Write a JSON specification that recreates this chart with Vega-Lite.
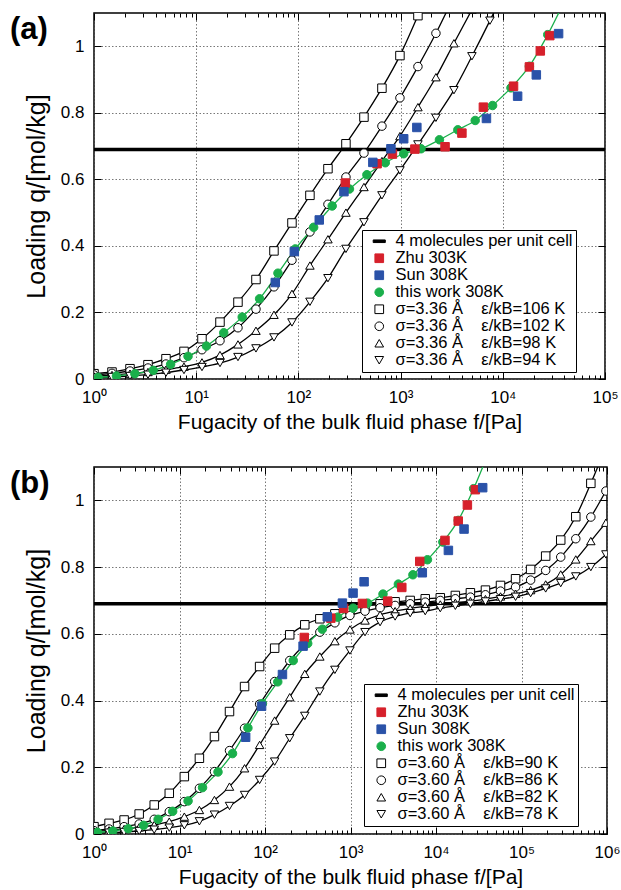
{
  "$schema": "https://vega.github.io/schema/vega-lite/v6.json",
  "background": "white",
  "padding": {"left": 9, "top": 11, "right": 5, "bottom": 5},
  "spacing": 32,
  "config": {
    "font": "Liberation Sans",
    "view": {"stroke": "black", "strokeWidth": 1.5},
    "axis": {"domain": false, "tickColor": "black", "labelColor": "black", "titleColor": "black", "labelFontSize": 17, "titleFontWeight": "normal", "gridColor": "#555555", "gridDash": [1.5, 2], "gridWidth": 0.8, "tickWidth": 1, "labelFont": "Liberation Sans", "titleFont": "Liberation Sans"},
    "legend": {"labelFont": "Liberation Sans", "labelFontSize": 16.5, "labelColor": "black", "strokeColor": "black", "fillColor": "white", "padding": 3, "cornerRadius": 0, "symbolOffset": 6, "labelOffset": 8, "labelLimit": 400, "rowPadding": 0, "symbolSize": 75, "symbolStrokeWidth": 1}
  },
  "resolve": {"scale": {"shape": "independent", "fill": "independent", "stroke": "independent"}},
  "datasets": {
    "exp": [
      {"s": "this work 308K", "f": 1.096, "q": 0.005}, {"s": "this work 308K", "f": 1.66, "q": 0.009}, {"s": "this work 308K", "f": 2.51, "q": 0.016}, {"s": "this work 308K", "f": 3.8, "q": 0.026}, {"s": "this work 308K", "f": 5.62, "q": 0.044}, {"s": "this work 308K", "f": 8.32, "q": 0.068}, {"s": "this work 308K", "f": 12.6, "q": 0.099}, {"s": "this work 308K", "f": 18.6, "q": 0.139}, {"s": "this work 308K", "f": 28.2, "q": 0.186}, {"s": "this work 308K", "f": 41.7, "q": 0.241}, {"s": "this work 308K", "f": 63.1, "q": 0.318}, {"s": "this work 308K", "f": 93.3, "q": 0.391}, {"s": "this work 308K", "f": 141, "q": 0.456}, {"s": "this work 308K", "f": 214, "q": 0.52}, {"s": "this work 308K", "f": 316, "q": 0.571}, {"s": "this work 308K", "f": 468, "q": 0.614}, {"s": "this work 308K", "f": 708, "q": 0.65}, {"s": "this work 308K", "f": 1072, "q": 0.677}, {"s": "this work 308K", "f": 1585, "q": 0.692}, {"s": "this work 308K", "f": 2399, "q": 0.719}, {"s": "this work 308K", "f": 3631, "q": 0.749}, {"s": "this work 308K", "f": 5370, "q": 0.777}, {"s": "this work 308K", "f": 7943, "q": 0.822}, {"s": "this work 308K", "f": 12023, "q": 0.875}, {"s": "this work 308K", "f": 18197, "q": 0.94}, {"s": "this work 308K", "f": 27542, "q": 1.035}, {"s": "this work 308K", "f": 40738, "q": 1.14},
      {"s": "Zhu 303K", "f": 288, "q": 0.589}, {"s": "Zhu 303K", "f": 589, "q": 0.647}, {"s": "Zhu 303K", "f": 832, "q": 0.676}, {"s": "Zhu 303K", "f": 1380, "q": 0.691}, {"s": "Zhu 303K", "f": 2723, "q": 0.698}, {"s": "Zhu 303K", "f": 3981, "q": 0.739}, {"s": "Zhu 303K", "f": 6457, "q": 0.817}, {"s": "Zhu 303K", "f": 12735, "q": 0.88}, {"s": "Zhu 303K", "f": 18197, "q": 0.938}, {"s": "Zhu 303K", "f": 23281, "q": 0.986}, {"s": "Zhu 303K", "f": 28840, "q": 1.032},
      {"s": "Sun 308K", "f": 59.4, "q": 0.29}, {"s": "Sun 308K", "f": 91.2, "q": 0.383}, {"s": "Sun 308K", "f": 160, "q": 0.478}, {"s": "Sun 308K", "f": 279, "q": 0.563}, {"s": "Sun 308K", "f": 535, "q": 0.651}, {"s": "Sun 308K", "f": 804, "q": 0.692}, {"s": "Sun 308K", "f": 1072, "q": 0.722}, {"s": "Sun 308K", "f": 1442, "q": 0.756}, {"s": "Sun 308K", "f": 6918, "q": 0.783}, {"s": "Sun 308K", "f": 13964, "q": 0.85}, {"s": "Sun 308K", "f": 21281, "q": 0.914}, {"s": "Sun 308K", "f": 35156, "q": 1.038}
    ],
    "sim_a": [
      {"s": "σ=3.36 Å\u00a0\u00a0\u00a0\u00a0ε/kB=106 K", "f": 1, "q": 0.016}, {"s": "σ=3.36 Å\u00a0\u00a0\u00a0\u00a0ε/kB=106 K", "f": 1.5, "q": 0.021}, {"s": "σ=3.36 Å\u00a0\u00a0\u00a0\u00a0ε/kB=106 K", "f": 2.25, "q": 0.031}, {"s": "σ=3.36 Å\u00a0\u00a0\u00a0\u00a0ε/kB=106 K", "f": 3.375, "q": 0.043}, {"s": "σ=3.36 Å\u00a0\u00a0\u00a0\u00a0ε/kB=106 K", "f": 5.063, "q": 0.061}, {"s": "σ=3.36 Å\u00a0\u00a0\u00a0\u00a0ε/kB=106 K", "f": 7.594, "q": 0.083}, {"s": "σ=3.36 Å\u00a0\u00a0\u00a0\u00a0ε/kB=106 K", "f": 11.39, "q": 0.121}, {"s": "σ=3.36 Å\u00a0\u00a0\u00a0\u00a0ε/kB=106 K", "f": 17.09, "q": 0.171}, {"s": "σ=3.36 Å\u00a0\u00a0\u00a0\u00a0ε/kB=106 K", "f": 25.63, "q": 0.231}, {"s": "σ=3.36 Å\u00a0\u00a0\u00a0\u00a0ε/kB=106 K", "f": 38.44, "q": 0.299}, {"s": "σ=3.36 Å\u00a0\u00a0\u00a0\u00a0ε/kB=106 K", "f": 57.67, "q": 0.385}, {"s": "σ=3.36 Å\u00a0\u00a0\u00a0\u00a0ε/kB=106 K", "f": 86.5, "q": 0.469}, {"s": "σ=3.36 Å\u00a0\u00a0\u00a0\u00a0ε/kB=106 K", "f": 129.7, "q": 0.552}, {"s": "σ=3.36 Å\u00a0\u00a0\u00a0\u00a0ε/kB=106 K", "f": 194.6, "q": 0.632}, {"s": "σ=3.36 Å\u00a0\u00a0\u00a0\u00a0ε/kB=106 K", "f": 291.9, "q": 0.707}, {"s": "σ=3.36 Å\u00a0\u00a0\u00a0\u00a0ε/kB=106 K", "f": 437.9, "q": 0.787}, {"s": "σ=3.36 Å\u00a0\u00a0\u00a0\u00a0ε/kB=106 K", "f": 656.8, "q": 0.874}, {"s": "σ=3.36 Å\u00a0\u00a0\u00a0\u00a0ε/kB=106 K", "f": 985.3, "q": 0.972}, {"s": "σ=3.36 Å\u00a0\u00a0\u00a0\u00a0ε/kB=106 K", "f": 1478, "q": 1.092}, {"s": "σ=3.36 Å\u00a0\u00a0\u00a0\u00a0ε/kB=106 K", "f": 2217, "q": 1.22},
      {"s": "σ=3.36 Å\u00a0\u00a0\u00a0\u00a0ε/kB=102 K", "f": 1, "q": 0.012}, {"s": "σ=3.36 Å\u00a0\u00a0\u00a0\u00a0ε/kB=102 K", "f": 1.5, "q": 0.017}, {"s": "σ=3.36 Å\u00a0\u00a0\u00a0\u00a0ε/kB=102 K", "f": 2.25, "q": 0.024}, {"s": "σ=3.36 Å\u00a0\u00a0\u00a0\u00a0ε/kB=102 K", "f": 3.375, "q": 0.033}, {"s": "σ=3.36 Å\u00a0\u00a0\u00a0\u00a0ε/kB=102 K", "f": 5.063, "q": 0.045}, {"s": "σ=3.36 Å\u00a0\u00a0\u00a0\u00a0ε/kB=102 K", "f": 7.594, "q": 0.064}, {"s": "σ=3.36 Å\u00a0\u00a0\u00a0\u00a0ε/kB=102 K", "f": 11.39, "q": 0.088}, {"s": "σ=3.36 Å\u00a0\u00a0\u00a0\u00a0ε/kB=102 K", "f": 17.09, "q": 0.115}, {"s": "σ=3.36 Å\u00a0\u00a0\u00a0\u00a0ε/kB=102 K", "f": 25.63, "q": 0.154}, {"s": "σ=3.36 Å\u00a0\u00a0\u00a0\u00a0ε/kB=102 K", "f": 38.44, "q": 0.21}, {"s": "σ=3.36 Å\u00a0\u00a0\u00a0\u00a0ε/kB=102 K", "f": 57.67, "q": 0.277}, {"s": "σ=3.36 Å\u00a0\u00a0\u00a0\u00a0ε/kB=102 K", "f": 86.5, "q": 0.357}, {"s": "σ=3.36 Å\u00a0\u00a0\u00a0\u00a0ε/kB=102 K", "f": 129.7, "q": 0.442}, {"s": "σ=3.36 Å\u00a0\u00a0\u00a0\u00a0ε/kB=102 K", "f": 194.6, "q": 0.525}, {"s": "σ=3.36 Å\u00a0\u00a0\u00a0\u00a0ε/kB=102 K", "f": 291.9, "q": 0.607}, {"s": "σ=3.36 Å\u00a0\u00a0\u00a0\u00a0ε/kB=102 K", "f": 437.9, "q": 0.679}, {"s": "σ=3.36 Å\u00a0\u00a0\u00a0\u00a0ε/kB=102 K", "f": 656.8, "q": 0.76}, {"s": "σ=3.36 Å\u00a0\u00a0\u00a0\u00a0ε/kB=102 K", "f": 985.3, "q": 0.845}, {"s": "σ=3.36 Å\u00a0\u00a0\u00a0\u00a0ε/kB=102 K", "f": 1478, "q": 0.939}, {"s": "σ=3.36 Å\u00a0\u00a0\u00a0\u00a0ε/kB=102 K", "f": 2217, "q": 1.039}, {"s": "σ=3.36 Å\u00a0\u00a0\u00a0\u00a0ε/kB=102 K", "f": 3325, "q": 1.15},
      {"s": "σ=3.36 Å\u00a0\u00a0\u00a0\u00a0ε/kB=98 K", "f": 1, "q": 0.008}, {"s": "σ=3.36 Å\u00a0\u00a0\u00a0\u00a0ε/kB=98 K", "f": 1.5, "q": 0.012}, {"s": "σ=3.36 Å\u00a0\u00a0\u00a0\u00a0ε/kB=98 K", "f": 2.25, "q": 0.016}, {"s": "σ=3.36 Å\u00a0\u00a0\u00a0\u00a0ε/kB=98 K", "f": 3.375, "q": 0.021}, {"s": "σ=3.36 Å\u00a0\u00a0\u00a0\u00a0ε/kB=98 K", "f": 5.063, "q": 0.028}, {"s": "σ=3.36 Å\u00a0\u00a0\u00a0\u00a0ε/kB=98 K", "f": 7.594, "q": 0.037}, {"s": "σ=3.36 Å\u00a0\u00a0\u00a0\u00a0ε/kB=98 K", "f": 11.39, "q": 0.05}, {"s": "σ=3.36 Å\u00a0\u00a0\u00a0\u00a0ε/kB=98 K", "f": 17.09, "q": 0.072}, {"s": "σ=3.36 Å\u00a0\u00a0\u00a0\u00a0ε/kB=98 K", "f": 25.63, "q": 0.104}, {"s": "σ=3.36 Å\u00a0\u00a0\u00a0\u00a0ε/kB=98 K", "f": 38.44, "q": 0.145}, {"s": "σ=3.36 Å\u00a0\u00a0\u00a0\u00a0ε/kB=98 K", "f": 57.67, "q": 0.193}, {"s": "σ=3.36 Å\u00a0\u00a0\u00a0\u00a0ε/kB=98 K", "f": 86.5, "q": 0.256}, {"s": "σ=3.36 Å\u00a0\u00a0\u00a0\u00a0ε/kB=98 K", "f": 129.7, "q": 0.341}, {"s": "σ=3.36 Å\u00a0\u00a0\u00a0\u00a0ε/kB=98 K", "f": 194.6, "q": 0.42}, {"s": "σ=3.36 Å\u00a0\u00a0\u00a0\u00a0ε/kB=98 K", "f": 291.9, "q": 0.5}, {"s": "σ=3.36 Å\u00a0\u00a0\u00a0\u00a0ε/kB=98 K", "f": 437.9, "q": 0.577}, {"s": "σ=3.36 Å\u00a0\u00a0\u00a0\u00a0ε/kB=98 K", "f": 656.8, "q": 0.655}, {"s": "σ=3.36 Å\u00a0\u00a0\u00a0\u00a0ε/kB=98 K", "f": 985.3, "q": 0.73}, {"s": "σ=3.36 Å\u00a0\u00a0\u00a0\u00a0ε/kB=98 K", "f": 1478, "q": 0.817}, {"s": "σ=3.36 Å\u00a0\u00a0\u00a0\u00a0ε/kB=98 K", "f": 2217, "q": 0.907}, {"s": "σ=3.36 Å\u00a0\u00a0\u00a0\u00a0ε/kB=98 K", "f": 3325, "q": 1.009}, {"s": "σ=3.36 Å\u00a0\u00a0\u00a0\u00a0ε/kB=98 K", "f": 4988, "q": 1.11},
      {"s": "σ=3.36 Å\u00a0\u00a0\u00a0\u00a0ε/kB=94 K", "f": 1, "q": 0.004}, {"s": "σ=3.36 Å\u00a0\u00a0\u00a0\u00a0ε/kB=94 K", "f": 1.5, "q": 0.006}, {"s": "σ=3.36 Å\u00a0\u00a0\u00a0\u00a0ε/kB=94 K", "f": 2.25, "q": 0.009}, {"s": "σ=3.36 Å\u00a0\u00a0\u00a0\u00a0ε/kB=94 K", "f": 3.375, "q": 0.013}, {"s": "σ=3.36 Å\u00a0\u00a0\u00a0\u00a0ε/kB=94 K", "f": 5.063, "q": 0.019}, {"s": "σ=3.36 Å\u00a0\u00a0\u00a0\u00a0ε/kB=94 K", "f": 7.594, "q": 0.027}, {"s": "σ=3.36 Å\u00a0\u00a0\u00a0\u00a0ε/kB=94 K", "f": 11.39, "q": 0.036}, {"s": "σ=3.36 Å\u00a0\u00a0\u00a0\u00a0ε/kB=94 K", "f": 17.09, "q": 0.048}, {"s": "σ=3.36 Å\u00a0\u00a0\u00a0\u00a0ε/kB=94 K", "f": 25.63, "q": 0.066}, {"s": "σ=3.36 Å\u00a0\u00a0\u00a0\u00a0ε/kB=94 K", "f": 38.44, "q": 0.092}, {"s": "σ=3.36 Å\u00a0\u00a0\u00a0\u00a0ε/kB=94 K", "f": 57.67, "q": 0.125}, {"s": "σ=3.36 Å\u00a0\u00a0\u00a0\u00a0ε/kB=94 K", "f": 86.5, "q": 0.17}, {"s": "σ=3.36 Å\u00a0\u00a0\u00a0\u00a0ε/kB=94 K", "f": 129.7, "q": 0.232}, {"s": "σ=3.36 Å\u00a0\u00a0\u00a0\u00a0ε/kB=94 K", "f": 194.6, "q": 0.303}, {"s": "σ=3.36 Å\u00a0\u00a0\u00a0\u00a0ε/kB=94 K", "f": 291.9, "q": 0.391}, {"s": "σ=3.36 Å\u00a0\u00a0\u00a0\u00a0ε/kB=94 K", "f": 437.9, "q": 0.471}, {"s": "σ=3.36 Å\u00a0\u00a0\u00a0\u00a0ε/kB=94 K", "f": 656.8, "q": 0.552}, {"s": "σ=3.36 Å\u00a0\u00a0\u00a0\u00a0ε/kB=94 K", "f": 985.3, "q": 0.627}, {"s": "σ=3.36 Å\u00a0\u00a0\u00a0\u00a0ε/kB=94 K", "f": 1478, "q": 0.705}, {"s": "σ=3.36 Å\u00a0\u00a0\u00a0\u00a0ε/kB=94 K", "f": 2217, "q": 0.785}, {"s": "σ=3.36 Å\u00a0\u00a0\u00a0\u00a0ε/kB=94 K", "f": 3325, "q": 0.868}, {"s": "σ=3.36 Å\u00a0\u00a0\u00a0\u00a0ε/kB=94 K", "f": 4988, "q": 0.97}, {"s": "σ=3.36 Å\u00a0\u00a0\u00a0\u00a0ε/kB=94 K", "f": 7482, "q": 1.077}, {"s": "σ=3.36 Å\u00a0\u00a0\u00a0\u00a0ε/kB=94 K", "f": 11223, "q": 1.19}
    ],
    "sim_b": [
      {"s": "σ=3.60 Å\u00a0\u00a0\u00a0\u00a0ε/kB=90 K", "f": 1, "q": 0.022}, {"s": "σ=3.60 Å\u00a0\u00a0\u00a0\u00a0ε/kB=90 K", "f": 1.5, "q": 0.032}, {"s": "σ=3.60 Å\u00a0\u00a0\u00a0\u00a0ε/kB=90 K", "f": 2.25, "q": 0.042}, {"s": "σ=3.60 Å\u00a0\u00a0\u00a0\u00a0ε/kB=90 K", "f": 3.375, "q": 0.06}, {"s": "σ=3.60 Å\u00a0\u00a0\u00a0\u00a0ε/kB=90 K", "f": 5.063, "q": 0.087}, {"s": "σ=3.60 Å\u00a0\u00a0\u00a0\u00a0ε/kB=90 K", "f": 7.594, "q": 0.122}, {"s": "σ=3.60 Å\u00a0\u00a0\u00a0\u00a0ε/kB=90 K", "f": 11.39, "q": 0.172}, {"s": "σ=3.60 Å\u00a0\u00a0\u00a0\u00a0ε/kB=90 K", "f": 17.09, "q": 0.227}, {"s": "σ=3.60 Å\u00a0\u00a0\u00a0\u00a0ε/kB=90 K", "f": 25.63, "q": 0.292}, {"s": "σ=3.60 Å\u00a0\u00a0\u00a0\u00a0ε/kB=90 K", "f": 38.44, "q": 0.367}, {"s": "σ=3.60 Å\u00a0\u00a0\u00a0\u00a0ε/kB=90 K", "f": 57.67, "q": 0.442}, {"s": "σ=3.60 Å\u00a0\u00a0\u00a0\u00a0ε/kB=90 K", "f": 86.5, "q": 0.502}, {"s": "σ=3.60 Å\u00a0\u00a0\u00a0\u00a0ε/kB=90 K", "f": 129.7, "q": 0.557}, {"s": "σ=3.60 Å\u00a0\u00a0\u00a0\u00a0ε/kB=90 K", "f": 194.6, "q": 0.597}, {"s": "σ=3.60 Å\u00a0\u00a0\u00a0\u00a0ε/kB=90 K", "f": 291.9, "q": 0.627}, {"s": "σ=3.60 Å\u00a0\u00a0\u00a0\u00a0ε/kB=90 K", "f": 437.9, "q": 0.645}, {"s": "σ=3.60 Å\u00a0\u00a0\u00a0\u00a0ε/kB=90 K", "f": 656.8, "q": 0.66}, {"s": "σ=3.60 Å\u00a0\u00a0\u00a0\u00a0ε/kB=90 K", "f": 985.3, "q": 0.672}, {"s": "σ=3.60 Å\u00a0\u00a0\u00a0\u00a0ε/kB=90 K", "f": 1478, "q": 0.682}, {"s": "σ=3.60 Å\u00a0\u00a0\u00a0\u00a0ε/kB=90 K", "f": 2217, "q": 0.69}, {"s": "σ=3.60 Å\u00a0\u00a0\u00a0\u00a0ε/kB=90 K", "f": 3325, "q": 0.696}, {"s": "σ=3.60 Å\u00a0\u00a0\u00a0\u00a0ε/kB=90 K", "f": 4988, "q": 0.7}, {"s": "σ=3.60 Å\u00a0\u00a0\u00a0\u00a0ε/kB=90 K", "f": 7482, "q": 0.705}, {"s": "σ=3.60 Å\u00a0\u00a0\u00a0\u00a0ε/kB=90 K", "f": 11223, "q": 0.708}, {"s": "σ=3.60 Å\u00a0\u00a0\u00a0\u00a0ε/kB=90 K", "f": 16834, "q": 0.715}, {"s": "σ=3.60 Å\u00a0\u00a0\u00a0\u00a0ε/kB=90 K", "f": 25251, "q": 0.723}, {"s": "σ=3.60 Å\u00a0\u00a0\u00a0\u00a0ε/kB=90 K", "f": 37877, "q": 0.731}, {"s": "σ=3.60 Å\u00a0\u00a0\u00a0\u00a0ε/kB=90 K", "f": 56815, "q": 0.745}, {"s": "σ=3.60 Å\u00a0\u00a0\u00a0\u00a0ε/kB=90 K", "f": 85223, "q": 0.765}, {"s": "σ=3.60 Å\u00a0\u00a0\u00a0\u00a0ε/kB=90 K", "f": 127834, "q": 0.793}, {"s": "σ=3.60 Å\u00a0\u00a0\u00a0\u00a0ε/kB=90 K", "f": 191751, "q": 0.833}, {"s": "σ=3.60 Å\u00a0\u00a0\u00a0\u00a0ε/kB=90 K", "f": 287627, "q": 0.881}, {"s": "σ=3.60 Å\u00a0\u00a0\u00a0\u00a0ε/kB=90 K", "f": 431440, "q": 0.951}, {"s": "σ=3.60 Å\u00a0\u00a0\u00a0\u00a0ε/kB=90 K", "f": 647160, "q": 1.051}, {"s": "σ=3.60 Å\u00a0\u00a0\u00a0\u00a0ε/kB=90 K", "f": 970740, "q": 1.16},
      {"s": "σ=3.60 Å\u00a0\u00a0\u00a0\u00a0ε/kB=86 K", "f": 1, "q": 0.01}, {"s": "σ=3.60 Å\u00a0\u00a0\u00a0\u00a0ε/kB=86 K", "f": 1.5, "q": 0.015}, {"s": "σ=3.60 Å\u00a0\u00a0\u00a0\u00a0ε/kB=86 K", "f": 2.25, "q": 0.022}, {"s": "σ=3.60 Å\u00a0\u00a0\u00a0\u00a0ε/kB=86 K", "f": 3.375, "q": 0.03}, {"s": "σ=3.60 Å\u00a0\u00a0\u00a0\u00a0ε/kB=86 K", "f": 5.063, "q": 0.044}, {"s": "σ=3.60 Å\u00a0\u00a0\u00a0\u00a0ε/kB=86 K", "f": 7.594, "q": 0.067}, {"s": "σ=3.60 Å\u00a0\u00a0\u00a0\u00a0ε/kB=86 K", "f": 11.39, "q": 0.097}, {"s": "σ=3.60 Å\u00a0\u00a0\u00a0\u00a0ε/kB=86 K", "f": 17.09, "q": 0.137}, {"s": "σ=3.60 Å\u00a0\u00a0\u00a0\u00a0ε/kB=86 K", "f": 25.63, "q": 0.187}, {"s": "σ=3.60 Å\u00a0\u00a0\u00a0\u00a0ε/kB=86 K", "f": 38.44, "q": 0.25}, {"s": "σ=3.60 Å\u00a0\u00a0\u00a0\u00a0ε/kB=86 K", "f": 57.67, "q": 0.317}, {"s": "σ=3.60 Å\u00a0\u00a0\u00a0\u00a0ε/kB=86 K", "f": 86.5, "q": 0.389}, {"s": "σ=3.60 Å\u00a0\u00a0\u00a0\u00a0ε/kB=86 K", "f": 129.7, "q": 0.457}, {"s": "σ=3.60 Å\u00a0\u00a0\u00a0\u00a0ε/kB=86 K", "f": 194.6, "q": 0.52}, {"s": "σ=3.60 Å\u00a0\u00a0\u00a0\u00a0ε/kB=86 K", "f": 291.9, "q": 0.568}, {"s": "σ=3.60 Å\u00a0\u00a0\u00a0\u00a0ε/kB=86 K", "f": 437.9, "q": 0.605}, {"s": "σ=3.60 Å\u00a0\u00a0\u00a0\u00a0ε/kB=86 K", "f": 656.8, "q": 0.633}, {"s": "σ=3.60 Å\u00a0\u00a0\u00a0\u00a0ε/kB=86 K", "f": 985.3, "q": 0.655}, {"s": "σ=3.60 Å\u00a0\u00a0\u00a0\u00a0ε/kB=86 K", "f": 1478, "q": 0.668}, {"s": "σ=3.60 Å\u00a0\u00a0\u00a0\u00a0ε/kB=86 K", "f": 2217, "q": 0.678}, {"s": "σ=3.60 Å\u00a0\u00a0\u00a0\u00a0ε/kB=86 K", "f": 3325, "q": 0.685}, {"s": "σ=3.60 Å\u00a0\u00a0\u00a0\u00a0ε/kB=86 K", "f": 4988, "q": 0.69}, {"s": "σ=3.60 Å\u00a0\u00a0\u00a0\u00a0ε/kB=86 K", "f": 7482, "q": 0.695}, {"s": "σ=3.60 Å\u00a0\u00a0\u00a0\u00a0ε/kB=86 K", "f": 11223, "q": 0.7}, {"s": "σ=3.60 Å\u00a0\u00a0\u00a0\u00a0ε/kB=86 K", "f": 16834, "q": 0.705}, {"s": "σ=3.60 Å\u00a0\u00a0\u00a0\u00a0ε/kB=86 K", "f": 25251, "q": 0.71}, {"s": "σ=3.60 Å\u00a0\u00a0\u00a0\u00a0ε/kB=86 K", "f": 37877, "q": 0.717}, {"s": "σ=3.60 Å\u00a0\u00a0\u00a0\u00a0ε/kB=86 K", "f": 56815, "q": 0.728}, {"s": "σ=3.60 Å\u00a0\u00a0\u00a0\u00a0ε/kB=86 K", "f": 85223, "q": 0.74}, {"s": "σ=3.60 Å\u00a0\u00a0\u00a0\u00a0ε/kB=86 K", "f": 127834, "q": 0.761}, {"s": "σ=3.60 Å\u00a0\u00a0\u00a0\u00a0ε/kB=86 K", "f": 191751, "q": 0.79}, {"s": "σ=3.60 Å\u00a0\u00a0\u00a0\u00a0ε/kB=86 K", "f": 287627, "q": 0.83}, {"s": "σ=3.60 Å\u00a0\u00a0\u00a0\u00a0ε/kB=86 K", "f": 431440, "q": 0.885}, {"s": "σ=3.60 Å\u00a0\u00a0\u00a0\u00a0ε/kB=86 K", "f": 647160, "q": 0.95}, {"s": "σ=3.60 Å\u00a0\u00a0\u00a0\u00a0ε/kB=86 K", "f": 970740, "q": 1.028},
      {"s": "σ=3.60 Å\u00a0\u00a0\u00a0\u00a0ε/kB=82 K", "f": 1, "q": 0.008}, {"s": "σ=3.60 Å\u00a0\u00a0\u00a0\u00a0ε/kB=82 K", "f": 1.5, "q": 0.011}, {"s": "σ=3.60 Å\u00a0\u00a0\u00a0\u00a0ε/kB=82 K", "f": 2.25, "q": 0.015}, {"s": "σ=3.60 Å\u00a0\u00a0\u00a0\u00a0ε/kB=82 K", "f": 3.375, "q": 0.02}, {"s": "σ=3.60 Å\u00a0\u00a0\u00a0\u00a0ε/kB=82 K", "f": 5.063, "q": 0.027}, {"s": "σ=3.60 Å\u00a0\u00a0\u00a0\u00a0ε/kB=82 K", "f": 7.594, "q": 0.037}, {"s": "σ=3.60 Å\u00a0\u00a0\u00a0\u00a0ε/kB=82 K", "f": 11.39, "q": 0.052}, {"s": "σ=3.60 Å\u00a0\u00a0\u00a0\u00a0ε/kB=82 K", "f": 17.09, "q": 0.072}, {"s": "σ=3.60 Å\u00a0\u00a0\u00a0\u00a0ε/kB=82 K", "f": 25.63, "q": 0.102}, {"s": "σ=3.60 Å\u00a0\u00a0\u00a0\u00a0ε/kB=82 K", "f": 38.44, "q": 0.142}, {"s": "σ=3.60 Å\u00a0\u00a0\u00a0\u00a0ε/kB=82 K", "f": 57.67, "q": 0.197}, {"s": "σ=3.60 Å\u00a0\u00a0\u00a0\u00a0ε/kB=82 K", "f": 86.5, "q": 0.267}, {"s": "σ=3.60 Å\u00a0\u00a0\u00a0\u00a0ε/kB=82 K", "f": 129.7, "q": 0.34}, {"s": "σ=3.60 Å\u00a0\u00a0\u00a0\u00a0ε/kB=82 K", "f": 194.6, "q": 0.41}, {"s": "σ=3.60 Å\u00a0\u00a0\u00a0\u00a0ε/kB=82 K", "f": 291.9, "q": 0.48}, {"s": "σ=3.60 Å\u00a0\u00a0\u00a0\u00a0ε/kB=82 K", "f": 437.9, "q": 0.532}, {"s": "σ=3.60 Å\u00a0\u00a0\u00a0\u00a0ε/kB=82 K", "f": 656.8, "q": 0.578}, {"s": "σ=3.60 Å\u00a0\u00a0\u00a0\u00a0ε/kB=82 K", "f": 985.3, "q": 0.613}, {"s": "σ=3.60 Å\u00a0\u00a0\u00a0\u00a0ε/kB=82 K", "f": 1478, "q": 0.64}, {"s": "σ=3.60 Å\u00a0\u00a0\u00a0\u00a0ε/kB=82 K", "f": 2217, "q": 0.657}, {"s": "σ=3.60 Å\u00a0\u00a0\u00a0\u00a0ε/kB=82 K", "f": 3325, "q": 0.668}, {"s": "σ=3.60 Å\u00a0\u00a0\u00a0\u00a0ε/kB=82 K", "f": 4988, "q": 0.676}, {"s": "σ=3.60 Å\u00a0\u00a0\u00a0\u00a0ε/kB=82 K", "f": 7482, "q": 0.683}, {"s": "σ=3.60 Å\u00a0\u00a0\u00a0\u00a0ε/kB=82 K", "f": 11223, "q": 0.688}, {"s": "σ=3.60 Å\u00a0\u00a0\u00a0\u00a0ε/kB=82 K", "f": 16834, "q": 0.693}, {"s": "σ=3.60 Å\u00a0\u00a0\u00a0\u00a0ε/kB=82 K", "f": 25251, "q": 0.698}, {"s": "σ=3.60 Å\u00a0\u00a0\u00a0\u00a0ε/kB=82 K", "f": 37877, "q": 0.704}, {"s": "σ=3.60 Å\u00a0\u00a0\u00a0\u00a0ε/kB=82 K", "f": 56815, "q": 0.712}, {"s": "σ=3.60 Å\u00a0\u00a0\u00a0\u00a0ε/kB=82 K", "f": 85223, "q": 0.72}, {"s": "σ=3.60 Å\u00a0\u00a0\u00a0\u00a0ε/kB=82 K", "f": 127834, "q": 0.731}, {"s": "σ=3.60 Å\u00a0\u00a0\u00a0\u00a0ε/kB=82 K", "f": 191751, "q": 0.748}, {"s": "σ=3.60 Å\u00a0\u00a0\u00a0\u00a0ε/kB=82 K", "f": 287627, "q": 0.778}, {"s": "σ=3.60 Å\u00a0\u00a0\u00a0\u00a0ε/kB=82 K", "f": 431440, "q": 0.823}, {"s": "σ=3.60 Å\u00a0\u00a0\u00a0\u00a0ε/kB=82 K", "f": 647160, "q": 0.878}, {"s": "σ=3.60 Å\u00a0\u00a0\u00a0\u00a0ε/kB=82 K", "f": 970740, "q": 0.933},
      {"s": "σ=3.60 Å\u00a0\u00a0\u00a0\u00a0ε/kB=78 K", "f": 1, "q": 0.003}, {"s": "σ=3.60 Å\u00a0\u00a0\u00a0\u00a0ε/kB=78 K", "f": 1.5, "q": 0.004}, {"s": "σ=3.60 Å\u00a0\u00a0\u00a0\u00a0ε/kB=78 K", "f": 2.25, "q": 0.006}, {"s": "σ=3.60 Å\u00a0\u00a0\u00a0\u00a0ε/kB=78 K", "f": 3.375, "q": 0.009}, {"s": "σ=3.60 Å\u00a0\u00a0\u00a0\u00a0ε/kB=78 K", "f": 5.063, "q": 0.013}, {"s": "σ=3.60 Å\u00a0\u00a0\u00a0\u00a0ε/kB=78 K", "f": 7.594, "q": 0.019}, {"s": "σ=3.60 Å\u00a0\u00a0\u00a0\u00a0ε/kB=78 K", "f": 11.39, "q": 0.026}, {"s": "σ=3.60 Å\u00a0\u00a0\u00a0\u00a0ε/kB=78 K", "f": 17.09, "q": 0.038}, {"s": "σ=3.60 Å\u00a0\u00a0\u00a0\u00a0ε/kB=78 K", "f": 25.63, "q": 0.058}, {"s": "σ=3.60 Å\u00a0\u00a0\u00a0\u00a0ε/kB=78 K", "f": 38.44, "q": 0.084}, {"s": "σ=3.60 Å\u00a0\u00a0\u00a0\u00a0ε/kB=78 K", "f": 57.67, "q": 0.117}, {"s": "σ=3.60 Å\u00a0\u00a0\u00a0\u00a0ε/kB=78 K", "f": 86.5, "q": 0.162}, {"s": "σ=3.60 Å\u00a0\u00a0\u00a0\u00a0ε/kB=78 K", "f": 129.7, "q": 0.217}, {"s": "σ=3.60 Å\u00a0\u00a0\u00a0\u00a0ε/kB=78 K", "f": 194.6, "q": 0.287}, {"s": "σ=3.60 Å\u00a0\u00a0\u00a0\u00a0ε/kB=78 K", "f": 291.9, "q": 0.354}, {"s": "σ=3.60 Å\u00a0\u00a0\u00a0\u00a0ε/kB=78 K", "f": 437.9, "q": 0.427}, {"s": "σ=3.60 Å\u00a0\u00a0\u00a0\u00a0ε/kB=78 K", "f": 656.8, "q": 0.492}, {"s": "σ=3.60 Å\u00a0\u00a0\u00a0\u00a0ε/kB=78 K", "f": 985.3, "q": 0.55}, {"s": "σ=3.60 Å\u00a0\u00a0\u00a0\u00a0ε/kB=78 K", "f": 1478, "q": 0.605}, {"s": "σ=3.60 Å\u00a0\u00a0\u00a0\u00a0ε/kB=78 K", "f": 2217, "q": 0.635}, {"s": "σ=3.60 Å\u00a0\u00a0\u00a0\u00a0ε/kB=78 K", "f": 3325, "q": 0.652}, {"s": "σ=3.60 Å\u00a0\u00a0\u00a0\u00a0ε/kB=78 K", "f": 4988, "q": 0.662}, {"s": "σ=3.60 Å\u00a0\u00a0\u00a0\u00a0ε/kB=78 K", "f": 7482, "q": 0.668}, {"s": "σ=3.60 Å\u00a0\u00a0\u00a0\u00a0ε/kB=78 K", "f": 11223, "q": 0.677}, {"s": "σ=3.60 Å\u00a0\u00a0\u00a0\u00a0ε/kB=78 K", "f": 16834, "q": 0.684}, {"s": "σ=3.60 Å\u00a0\u00a0\u00a0\u00a0ε/kB=78 K", "f": 25251, "q": 0.69}, {"s": "σ=3.60 Å\u00a0\u00a0\u00a0\u00a0ε/kB=78 K", "f": 37877, "q": 0.697}, {"s": "σ=3.60 Å\u00a0\u00a0\u00a0\u00a0ε/kB=78 K", "f": 56815, "q": 0.704}, {"s": "σ=3.60 Å\u00a0\u00a0\u00a0\u00a0ε/kB=78 K", "f": 85223, "q": 0.711}, {"s": "σ=3.60 Å\u00a0\u00a0\u00a0\u00a0ε/kB=78 K", "f": 127834, "q": 0.722}, {"s": "σ=3.60 Å\u00a0\u00a0\u00a0\u00a0ε/kB=78 K", "f": 191751, "q": 0.736}, {"s": "σ=3.60 Å\u00a0\u00a0\u00a0\u00a0ε/kB=78 K", "f": 287627, "q": 0.752}, {"s": "σ=3.60 Å\u00a0\u00a0\u00a0\u00a0ε/kB=78 K", "f": 431440, "q": 0.772}, {"s": "σ=3.60 Å\u00a0\u00a0\u00a0\u00a0ε/kB=78 K", "f": 647160, "q": 0.8}, {"s": "σ=3.60 Å\u00a0\u00a0\u00a0\u00a0ε/kB=78 K", "f": 970740, "q": 0.838}
    ]
  },
  "vconcat": [
    {
      "width": 511, "height": 366,
      "title": {"text": "(a)", "anchor": "start", "frame": "group", "fontSize": 31, "fontWeight": "bold", "font": "Liberation Sans", "color": "black", "dx": -84, "dy": 33, "offset": 0},
      "resolve": {"axis": {"x": "independent", "y": "independent"}},
      "layer": [
        {
          "data": {"values": [{"s": "4 molecules per unit cell", "q": 0.69}]},
          "mark": {"type": "rule", "color": "black", "strokeWidth": 3.5},
          "encoding": {
            "y": {"field": "q", "type": "quantitative", "scale": {"domain": [0, 1.1], "nice": false, "zero": false}, "axis": {"values": [0, 0.2, 0.4, 0.6, 0.8, 1], "format": ".1~f", "grid": true, "tickSize": -7, "labelPadding": 17, "title": "Loading q/[mol/kg]", "titleFontSize": 25, "titlePadding": 11}}
          }
        },
        {
          "data": {"name": "sim_a"},
          "mark": {"type": "line", "color": "black", "strokeWidth": 1.3, "clip": true, "interpolate": "monotone"},
          "encoding": {
            "x": {"field": "f", "type": "quantitative", "scale": {"type": "log", "domain": [1, 100000], "nice": false}, "axis": {"values": [1, 10, 100, 1000, 10000, 100000], "labelExpr": "'10' + ['⁰','¹','²','³','⁴','⁵','⁶'][round(log(datum.value)/LN10)]", "labelFlush": false, "labelOverlap": false, "grid": true, "tickSize": -7, "labelPadding": 17, "title": "Fugacity of the bulk fluid phase f/[Pa]", "titleFontSize": 21, "titlePadding": 6}},
            "y": {"field": "q", "type": "quantitative", "scale": {"domain": [0, 1.1], "nice": false, "zero": false}, "axis": {"orient": "right", "values": [0, 0.2, 0.4, 0.6, 0.8, 1], "labels": false, "grid": false, "tickSize": -7, "title": null}},
            "detail": {"field": "s"}
          }
        },
        {
          "data": {"name": "exp"},
          "transform": [{"filter": "datum.s === 'this work 308K'"}],
          "mark": {"type": "line", "color": "#1aaf4b", "strokeWidth": 1.3, "clip": true, "interpolate": "monotone"},
          "encoding": {
            "x": {"field": "f", "type": "quantitative", "scale": {"type": "log", "domain": [1, 100000], "nice": false}, "axis": {"orient": "top", "values": [1, 10, 100, 1000, 10000, 100000], "labels": false, "grid": false, "tickSize": -7, "title": null}},
            "y": {"field": "q", "type": "quantitative", "scale": {"domain": [0, 1.1], "nice": false, "zero": false}, "axis": null}
          }
        },
        {
          "data": {"name": "sim_a"},
          "mark": {"type": "point", "size": 72, "strokeWidth": 1, "opacity": 1, "clip": true},
          "encoding": {
            "x": {"field": "f", "type": "quantitative", "scale": {"type": "log", "domain": [1, 100000], "nice": false}, "axis": {"orient": "bottom", "values": [2, 3, 4, 5, 6, 7, 8, 9, 20, 30, 40, 50, 60, 70, 80, 90, 200, 300, 400, 500, 600, 700, 800, 900, 2000, 3000, 4000, 5000, 6000, 7000, 8000, 9000, 20000, 30000, 40000, 50000, 60000, 70000, 80000, 90000], "labels": false, "grid": false, "tickSize": -4, "title": null}},
            "y": {"field": "q", "type": "quantitative", "scale": {"domain": [0, 1.1], "nice": false, "zero": false}, "axis": null},
            "shape": {"field": "s", "type": "nominal", "scale": {"domain": ["4 molecules per unit cell", "Zhu 303K", "Sun 308K", "this work 308K", "σ=3.36 Å\u00a0\u00a0\u00a0\u00a0ε/kB=106 K", "σ=3.36 Å\u00a0\u00a0\u00a0\u00a0ε/kB=102 K", "σ=3.36 Å\u00a0\u00a0\u00a0\u00a0ε/kB=98 K", "σ=3.36 Å\u00a0\u00a0\u00a0\u00a0ε/kB=94 K"], "range": ["M-1.4,-0.3H1.4V0.3H-1.4Z", "square", "square", "circle", "square", "circle", "triangle-up", "triangle-down"]}, "legend": {"orient": "none", "legendX": 268, "legendY": 217, "title": null, "encode": {"legend": {"update": {"strokeWidth": {"value": 1.5}}}}}},
            "fill": {"field": "s", "type": "nominal", "scale": {"domain": ["4 molecules per unit cell", "Zhu 303K", "Sun 308K", "this work 308K", "σ=3.36 Å\u00a0\u00a0\u00a0\u00a0ε/kB=106 K", "σ=3.36 Å\u00a0\u00a0\u00a0\u00a0ε/kB=102 K", "σ=3.36 Å\u00a0\u00a0\u00a0\u00a0ε/kB=98 K", "σ=3.36 Å\u00a0\u00a0\u00a0\u00a0ε/kB=94 K"], "range": ["black", "#d6202b", "#2a52a8", "#1aaf4b", "white", "white", "white", "white"]}, "legend": {"orient": "none", "legendX": 268, "legendY": 217, "title": null, "encode": {"legend": {"update": {"strokeWidth": {"value": 1.5}}}}}},
            "stroke": {"field": "s", "type": "nominal", "scale": {"domain": ["4 molecules per unit cell", "Zhu 303K", "Sun 308K", "this work 308K", "σ=3.36 Å\u00a0\u00a0\u00a0\u00a0ε/kB=106 K", "σ=3.36 Å\u00a0\u00a0\u00a0\u00a0ε/kB=102 K", "σ=3.36 Å\u00a0\u00a0\u00a0\u00a0ε/kB=98 K", "σ=3.36 Å\u00a0\u00a0\u00a0\u00a0ε/kB=94 K"], "range": ["black", "#d6202b", "#2a52a8", "#1aaf4b", "black", "black", "black", "black"]}, "legend": {"orient": "none", "legendX": 268, "legendY": 217, "title": null, "encode": {"legend": {"update": {"strokeWidth": {"value": 1.5}}}}}}
          }
        },
        {
          "data": {"name": "exp"},
          "mark": {"type": "point", "size": 72, "strokeWidth": 1, "opacity": 1, "clip": true},
          "encoding": {
            "x": {"field": "f", "type": "quantitative", "scale": {"type": "log", "domain": [1, 100000], "nice": false}, "axis": {"orient": "top", "values": [2, 3, 4, 5, 6, 7, 8, 9, 20, 30, 40, 50, 60, 70, 80, 90, 200, 300, 400, 500, 600, 700, 800, 900, 2000, 3000, 4000, 5000, 6000, 7000, 8000, 9000, 20000, 30000, 40000, 50000, 60000, 70000, 80000, 90000], "labels": false, "grid": false, "tickSize": -4, "title": null}},
            "y": {"field": "q", "type": "quantitative", "scale": {"domain": [0, 1.1], "nice": false, "zero": false}, "axis": null},
            "shape": {"field": "s", "type": "nominal"},
            "fill": {"field": "s", "type": "nominal"},
            "stroke": {"field": "s", "type": "nominal"}
          }
        }
      ]
    },
    {
      "width": 513, "height": 367,
      "title": {"text": "(b)", "anchor": "start", "frame": "group", "fontSize": 31, "fontWeight": "bold", "font": "Liberation Sans", "color": "black", "dx": -84, "dy": 33, "offset": 0},
      "resolve": {"axis": {"x": "independent", "y": "independent"}},
      "layer": [
        {
          "data": {"values": [{"s": "4 molecules per unit cell", "q": 0.69}]},
          "mark": {"type": "rule", "color": "black", "strokeWidth": 3.5},
          "encoding": {
            "y": {"field": "q", "type": "quantitative", "scale": {"domain": [0, 1.1], "nice": false, "zero": false}, "axis": {"values": [0, 0.2, 0.4, 0.6, 0.8, 1], "format": ".1~f", "grid": true, "tickSize": -7, "labelPadding": 17, "title": "Loading q/[mol/kg]", "titleFontSize": 25, "titlePadding": 11}}
          }
        },
        {
          "data": {"name": "sim_b"},
          "mark": {"type": "line", "color": "black", "strokeWidth": 1.3, "clip": true, "interpolate": "monotone"},
          "encoding": {
            "x": {"field": "f", "type": "quantitative", "scale": {"type": "log", "domain": [1, 1000000], "nice": false}, "axis": {"values": [1, 10, 100, 1000, 10000, 100000, 1000000], "labelExpr": "'10' + ['⁰','¹','²','³','⁴','⁵','⁶'][round(log(datum.value)/LN10)]", "labelFlush": false, "labelOverlap": false, "grid": true, "tickSize": -7, "labelPadding": 17, "title": "Fugacity of the bulk fluid phase f/[Pa]", "titleFontSize": 21, "titlePadding": 6}},
            "y": {"field": "q", "type": "quantitative", "scale": {"domain": [0, 1.1], "nice": false, "zero": false}, "axis": {"orient": "right", "values": [0, 0.2, 0.4, 0.6, 0.8, 1], "labels": false, "grid": false, "tickSize": -7, "title": null}},
            "detail": {"field": "s"}
          }
        },
        {
          "data": {"name": "exp"},
          "transform": [{"filter": "datum.s === 'this work 308K'"}],
          "mark": {"type": "line", "color": "#1aaf4b", "strokeWidth": 1.3, "clip": true, "interpolate": "monotone"},
          "encoding": {
            "x": {"field": "f", "type": "quantitative", "scale": {"type": "log", "domain": [1, 1000000], "nice": false}, "axis": {"orient": "top", "values": [1, 10, 100, 1000, 10000, 100000, 1000000], "labels": false, "grid": false, "tickSize": -7, "title": null}},
            "y": {"field": "q", "type": "quantitative", "scale": {"domain": [0, 1.1], "nice": false, "zero": false}, "axis": null}
          }
        },
        {
          "data": {"name": "sim_b"},
          "mark": {"type": "point", "size": 72, "strokeWidth": 1, "opacity": 1, "clip": true},
          "encoding": {
            "x": {"field": "f", "type": "quantitative", "scale": {"type": "log", "domain": [1, 1000000], "nice": false}, "axis": {"orient": "bottom", "values": [2, 3, 4, 5, 6, 7, 8, 9, 20, 30, 40, 50, 60, 70, 80, 90, 200, 300, 400, 500, 600, 700, 800, 900, 2000, 3000, 4000, 5000, 6000, 7000, 8000, 9000, 20000, 30000, 40000, 50000, 60000, 70000, 80000, 90000, 200000, 300000, 400000, 500000, 600000, 700000, 800000, 900000], "labels": false, "grid": false, "tickSize": -4, "title": null}},
            "y": {"field": "q", "type": "quantitative", "scale": {"domain": [0, 1.1], "nice": false, "zero": false}, "axis": null},
            "shape": {"field": "s", "type": "nominal", "scale": {"domain": ["4 molecules per unit cell", "Zhu 303K", "Sun 308K", "this work 308K", "σ=3.60 Å\u00a0\u00a0\u00a0\u00a0ε/kB=90 K", "σ=3.60 Å\u00a0\u00a0\u00a0\u00a0ε/kB=86 K", "σ=3.60 Å\u00a0\u00a0\u00a0\u00a0ε/kB=82 K", "σ=3.60 Å\u00a0\u00a0\u00a0\u00a0ε/kB=78 K"], "range": ["M-1.4,-0.3H1.4V0.3H-1.4Z", "square", "square", "circle", "square", "circle", "triangle-up", "triangle-down"]}, "legend": {"orient": "none", "legendX": 270, "legendY": 217, "title": null, "encode": {"legend": {"update": {"strokeWidth": {"value": 1.5}}}}}},
            "fill": {"field": "s", "type": "nominal", "scale": {"domain": ["4 molecules per unit cell", "Zhu 303K", "Sun 308K", "this work 308K", "σ=3.60 Å\u00a0\u00a0\u00a0\u00a0ε/kB=90 K", "σ=3.60 Å\u00a0\u00a0\u00a0\u00a0ε/kB=86 K", "σ=3.60 Å\u00a0\u00a0\u00a0\u00a0ε/kB=82 K", "σ=3.60 Å\u00a0\u00a0\u00a0\u00a0ε/kB=78 K"], "range": ["black", "#d6202b", "#2a52a8", "#1aaf4b", "white", "white", "white", "white"]}, "legend": {"orient": "none", "legendX": 270, "legendY": 217, "title": null, "encode": {"legend": {"update": {"strokeWidth": {"value": 1.5}}}}}},
            "stroke": {"field": "s", "type": "nominal", "scale": {"domain": ["4 molecules per unit cell", "Zhu 303K", "Sun 308K", "this work 308K", "σ=3.60 Å\u00a0\u00a0\u00a0\u00a0ε/kB=90 K", "σ=3.60 Å\u00a0\u00a0\u00a0\u00a0ε/kB=86 K", "σ=3.60 Å\u00a0\u00a0\u00a0\u00a0ε/kB=82 K", "σ=3.60 Å\u00a0\u00a0\u00a0\u00a0ε/kB=78 K"], "range": ["black", "#d6202b", "#2a52a8", "#1aaf4b", "black", "black", "black", "black"]}, "legend": {"orient": "none", "legendX": 270, "legendY": 217, "title": null, "encode": {"legend": {"update": {"strokeWidth": {"value": 1.5}}}}}}
          }
        },
        {
          "data": {"name": "exp"},
          "mark": {"type": "point", "size": 72, "strokeWidth": 1, "opacity": 1, "clip": true},
          "encoding": {
            "x": {"field": "f", "type": "quantitative", "scale": {"type": "log", "domain": [1, 1000000], "nice": false}, "axis": {"orient": "top", "values": [2, 3, 4, 5, 6, 7, 8, 9, 20, 30, 40, 50, 60, 70, 80, 90, 200, 300, 400, 500, 600, 700, 800, 900, 2000, 3000, 4000, 5000, 6000, 7000, 8000, 9000, 20000, 30000, 40000, 50000, 60000, 70000, 80000, 90000, 200000, 300000, 400000, 500000, 600000, 700000, 800000, 900000], "labels": false, "grid": false, "tickSize": -4, "title": null}},
            "y": {"field": "q", "type": "quantitative", "scale": {"domain": [0, 1.1], "nice": false, "zero": false}, "axis": null},
            "shape": {"field": "s", "type": "nominal"},
            "fill": {"field": "s", "type": "nominal"},
            "stroke": {"field": "s", "type": "nominal"}
          }
        }
      ]
    }
  ]
}
